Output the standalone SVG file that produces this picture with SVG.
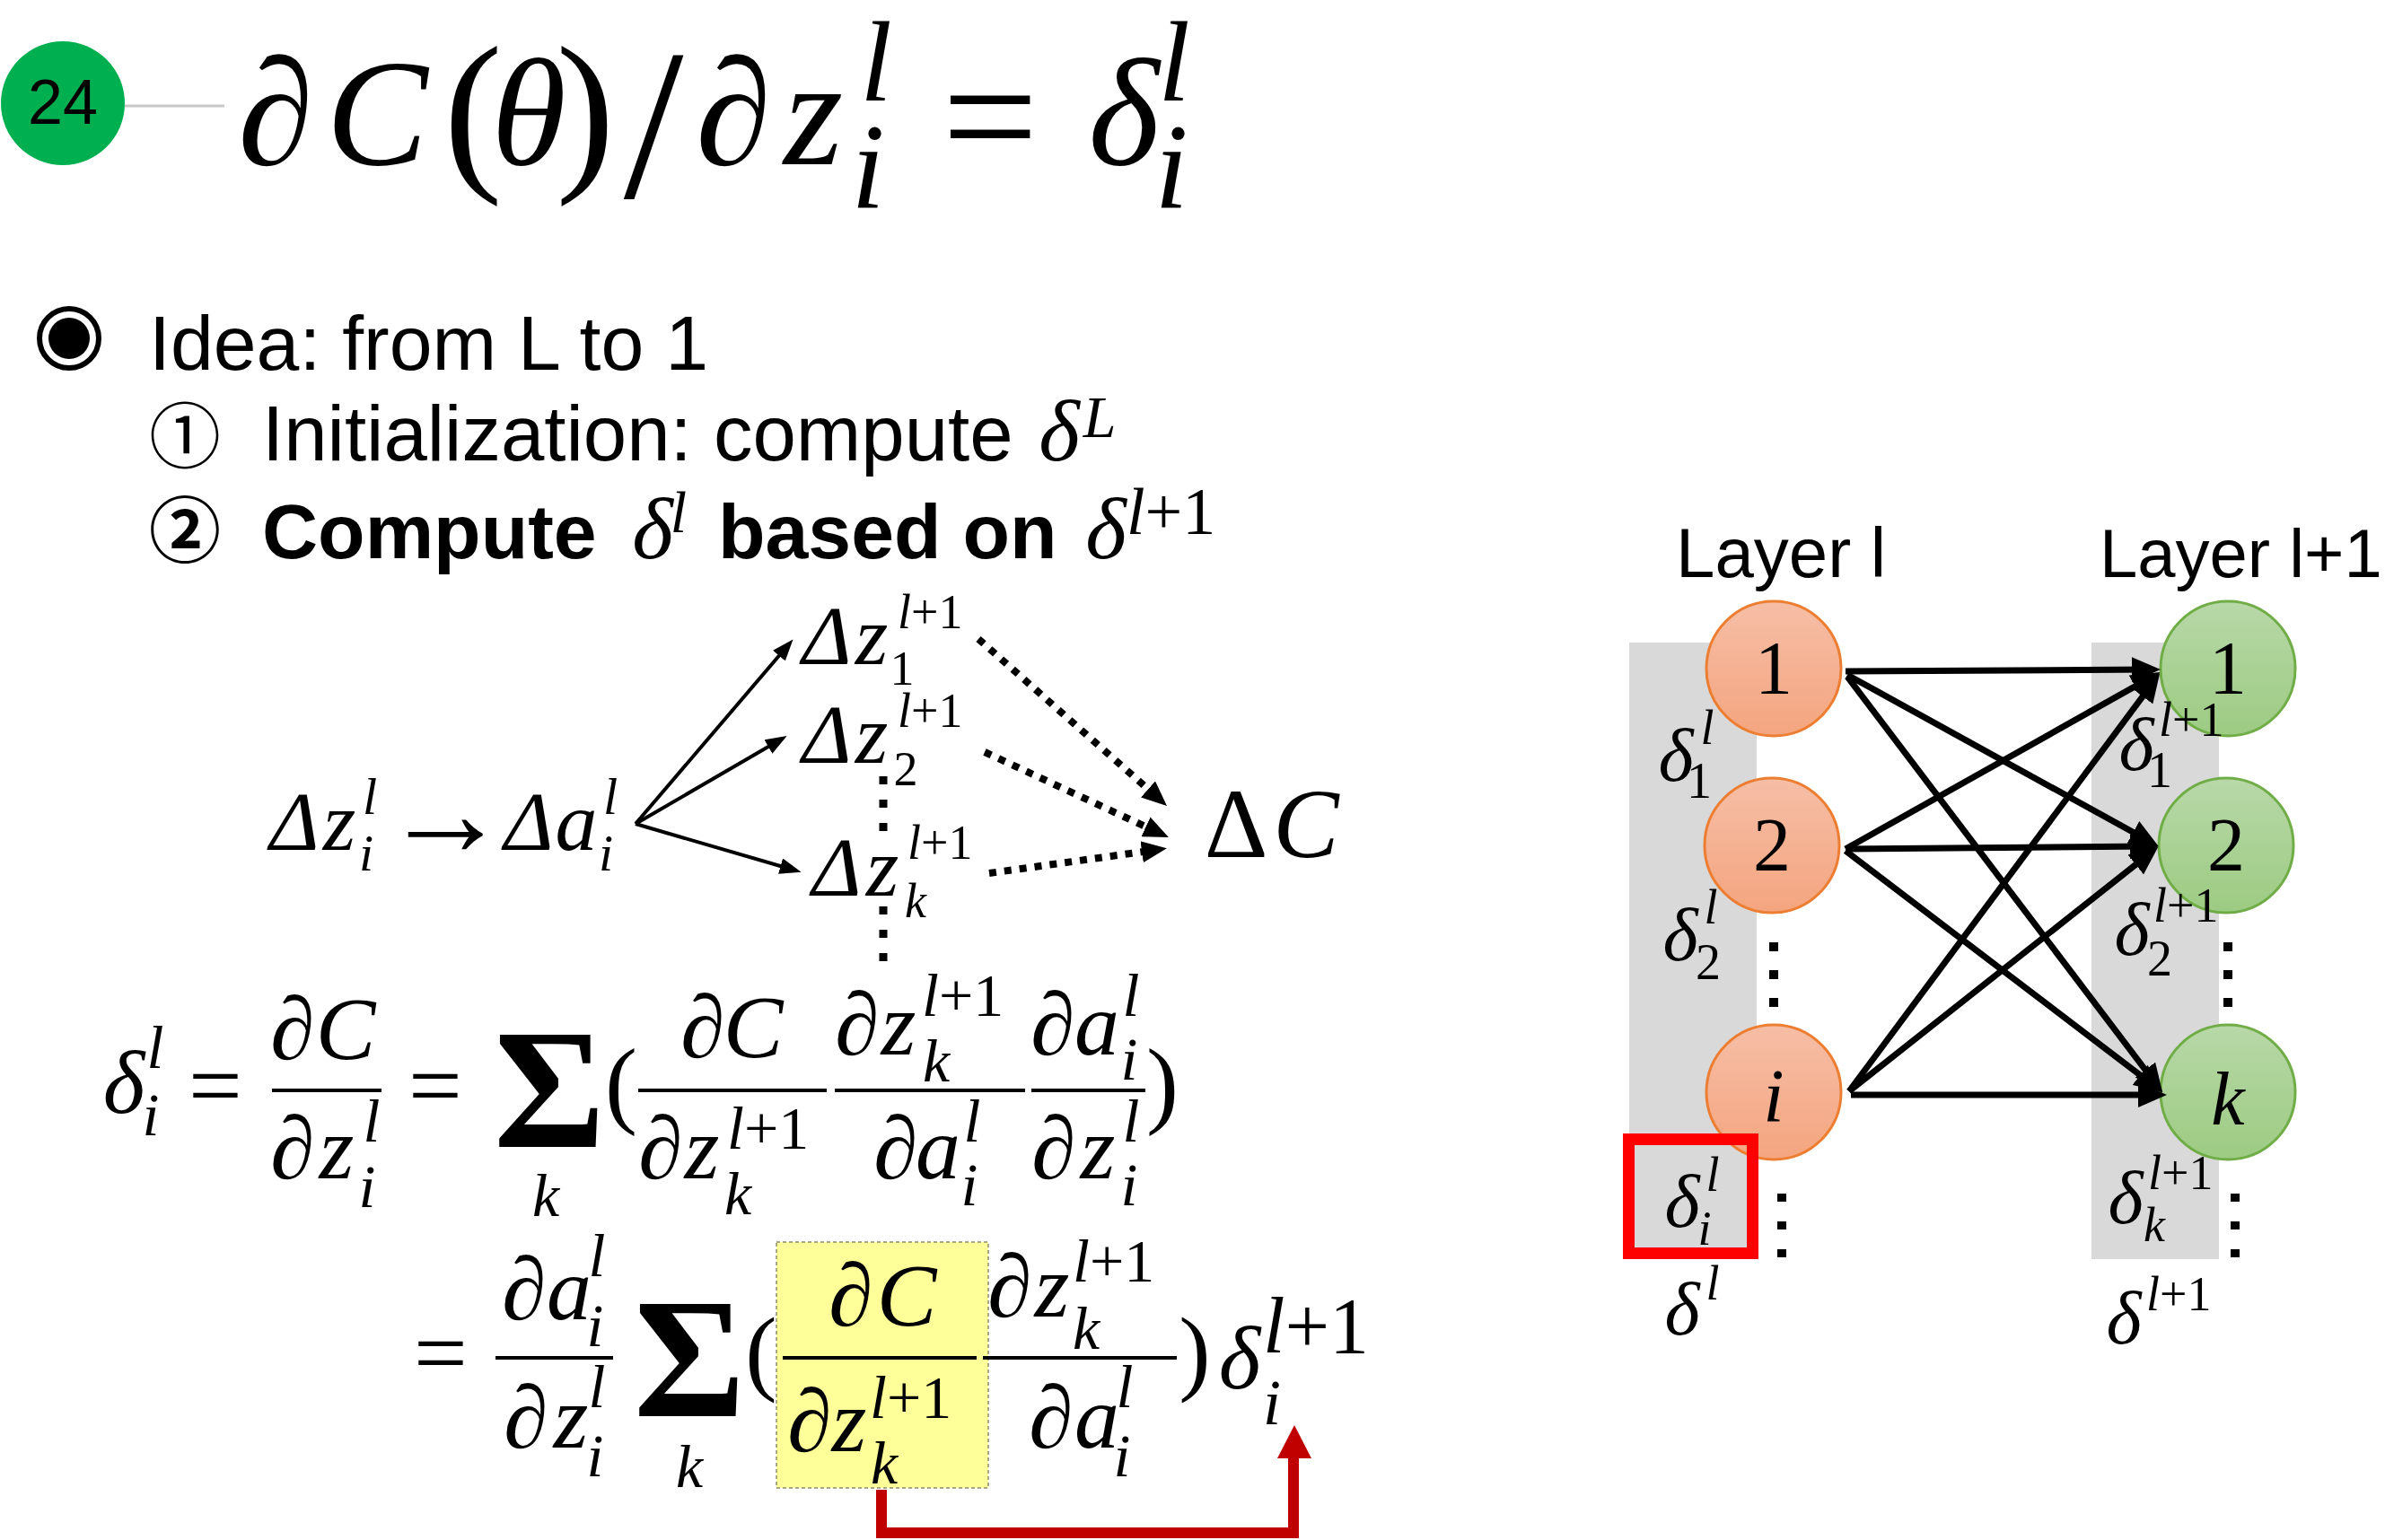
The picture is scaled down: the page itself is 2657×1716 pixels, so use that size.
<svg xmlns="http://www.w3.org/2000/svg" width="2657" height="1716" viewBox="0 0 2657 1716">
<style>
.m{font-family:"Liberation Serif","Times New Roman",serif;font-style:italic}
.r{font-family:"Liberation Serif","Times New Roman",serif;font-style:normal}
.s{font-family:"Liberation Sans",Arial,sans-serif}
.cj{font-family:"Noto Sans CJK SC","DejaVu Sans",sans-serif}
.c{text-anchor:middle}
.bar{stroke:#000;stroke-width:4}
.edge{stroke:#000;stroke-width:7;fill:none;marker-end:url(#ahNet)}
.sa{stroke:#000;stroke-width:4;fill:none;marker-end:url(#ahS)}
.da{stroke:#000;stroke-width:8;stroke-dasharray:8 9;fill:none;marker-end:url(#ahD)}
.dot{fill:#000}
</style>
<defs>
<linearGradient id="gO" x1="0" y1="0" x2="0" y2="1"><stop offset="0" stop-color="#f6bea6"/><stop offset="1" stop-color="#f4a57f"/></linearGradient>
<linearGradient id="gG" x1="0" y1="0" x2="0" y2="1"><stop offset="0" stop-color="#b8d8a8"/><stop offset="1" stop-color="#9ccb82"/></linearGradient>
<marker id="ahNet" markerUnits="userSpaceOnUse" markerWidth="32" markerHeight="28" refX="20" refY="14" orient="auto"><path d="M0,0 L32,14 L0,28 z" fill="#000"/></marker>
<marker id="ahS" markerUnits="userSpaceOnUse" markerWidth="24" markerHeight="18" refX="14" refY="9" orient="auto"><path d="M0,0 L24,9 L0,18 z" fill="#000"/></marker>
<marker id="ahD" markerUnits="userSpaceOnUse" markerWidth="28" markerHeight="24" refX="16" refY="12" orient="auto"><path d="M0,0 L28,12 L0,24 z" fill="#000"/></marker>
</defs>
<rect width="2657" height="1716" fill="#fff"/>

<g id="badge">
<line x1="138" y1="118" x2="250" y2="118" stroke="#c8c8c8" stroke-width="3"/>
<circle cx="70" cy="115" r="69" fill="#00b050"/>
<text class="s c" x="70" y="138" font-size="70">24</text>
</g>

<g id="title" class="m c" font-size="170">
<text x="307" y="183">∂</text>
<text x="420" y="183">C</text>
<text class="r" x="527" y="188" font-size="197">(</text>
<text x="589" y="183">θ</text>
<text class="r" x="652" y="188" font-size="197">)</text>
<text class="r" x="728" y="220" font-size="240">/</text>
<text x="817" y="183">∂</text>
<text x="906" y="183">z</text>
<text x="976" y="112" font-size="128">l</text>
<text x="967" y="232" font-size="135">i</text>
<text class="r" x="1103" y="194" font-size="190">=</text>
<text x="1252" y="183">δ</text>
<text x="1308" y="112" font-size="128">l</text>
<text x="1305" y="232" font-size="135">i</text>
</g>

<g id="bullets">
<circle cx="77" cy="377" r="33" fill="none" stroke="#000" stroke-width="6"/>
<circle cx="77" cy="377" r="23" fill="#000"/>
<text class="s" x="166" y="412" font-size="86">Idea: from L to 1</text>
<text class="cj c" x="206" y="515" font-size="80">①</text>
<text class="s" x="292" y="513" font-size="87">Initialization: compute</text>
<text class="m c" x="1180" y="513" font-size="98">δ</text>
<text class="m c" x="1225" y="487" font-size="66">L</text>
<text class="cj c" x="206" y="620" font-size="80" font-weight="bold">②</text>
<text class="s" x="292" y="622" font-size="86" font-weight="bold">Compute</text>
<text class="m c" x="727" y="622" font-size="98">δ</text>
<text class="m c" x="756" y="593" font-size="66">l</text>
<text class="s" x="800" y="622" font-size="86" font-weight="bold">based on</text>
<text class="m c" x="1232" y="622" font-size="98">δ</text>
<text x="1255" y="595" font-size="74"><tspan class="m">l</tspan><tspan class="r">+1</tspan></text>
</g>

<g id="dz-diagram" font-size="94">
<text class="m c" x="328" y="947">Δ</text><text class="m c" x="378" y="947">z</text>
<text class="m c" x="412" y="907" font-size="58">l</text><text class="m c" x="408" y="970" font-size="58">i</text>
<text class="r c" x="496" y="953" font-size="140">→</text>
<text class="m c" x="589" y="947">Δ</text><text class="m c" x="642" y="947">a</text>
<text class="m c" x="680" y="907" font-size="58">l</text><text class="m c" x="675" y="970" font-size="58">i</text>

<text class="m c" x="921" y="740">Δ</text><text class="m c" x="971" y="740">z</text>
<text x="1000" y="700" font-size="54"><tspan class="m">l</tspan><tspan class="r">+1</tspan></text>
<text class="r c" x="1005" y="763" font-size="54">1</text>

<text class="m c" x="921" y="850">Δ</text><text class="m c" x="971" y="850">z</text>
<text x="1000" y="810" font-size="54"><tspan class="m">l</tspan><tspan class="r">+1</tspan></text>
<text class="r c" x="1009" y="875" font-size="54">2</text>

<text class="m c" x="932" y="998">Δ</text><text class="m c" x="983" y="998">z</text>
<text x="1011" y="957" font-size="54"><tspan class="m">l</tspan><tspan class="r">+1</tspan></text>
<text class="m c" x="1020" y="1022" font-size="54">k</text>

<text class="r c" x="1377" y="955" font-size="110">Δ</text><text class="m c" x="1455" y="955" font-size="110">C</text>
</g>

<g id="dz-connectors">
<line class="sa" x1="708" y1="918" x2="877" y2="720"/>
<line class="sa" x1="708" y1="918" x2="868" y2="825"/>
<line class="sa" x1="708" y1="918" x2="883" y2="969"/>
<line class="da" x1="1090" y1="712" x2="1291" y2="890"/>
<line class="da" x1="1097" y1="838" x2="1291" y2="928"/>
<line class="da" x1="1102" y1="973" x2="1288" y2="947"/>
<line x1="984" y1="865" x2="984" y2="932" stroke="#000" stroke-width="9" stroke-dasharray="9 17"/>
<line x1="984" y1="1010" x2="984" y2="1078" stroke="#000" stroke-width="9" stroke-dasharray="9 17"/>
</g>

<g id="eq1" class="m c" font-size="100">
<text x="138" y="1240">δ</text>
<text x="173" y="1190" font-size="68">l</text><text x="168" y="1265" font-size="68">i</text>
<text class="r" x="240" y="1245" font-size="106">=</text>
<line class="bar" x1="303" y1="1215" x2="425" y2="1215"/>
<text x="326" y="1180">∂</text><text x="385" y="1180">C</text>
<text x="326" y="1313">∂</text><text x="375" y="1313">z</text>
<text x="414" y="1272" font-size="68">l</text><text x="409" y="1345" font-size="68">i</text>
<text class="r" x="485" y="1245" font-size="106">=</text>
<text class="r" x="612" y="1278" font-size="190" font-weight="bold">Σ</text>
<text x="608" y="1355" font-size="68">k</text>
<text class="r" x="692" y="1243" font-size="108">(</text>
<line class="bar" x1="711" y1="1215" x2="921" y2="1215"/>
<text x="783" y="1178">∂</text><text x="839" y="1178">C</text>
<text x="736" y="1313">∂</text><text x="782" y="1313">z</text>
<text x="810" y="1280" font-size="68" text-anchor="start"><tspan>l</tspan><tspan class="r">+1</tspan></text>
<text x="822" y="1353" font-size="68">k</text>
<line class="bar" x1="930" y1="1215" x2="1142" y2="1215"/>
<text x="955" y="1175">∂</text><text x="1001" y="1175">z</text>
<text x="1027" y="1132" font-size="68" text-anchor="start"><tspan>l</tspan><tspan class="r">+1</tspan></text>
<text x="1043" y="1205" font-size="68">k</text>
<text x="998" y="1313">∂</text><text x="1045" y="1313">a</text>
<text x="1083" y="1272" font-size="68">l</text><text x="1080" y="1343" font-size="68">i</text>
<line class="bar" x1="1149" y1="1215" x2="1276" y2="1215"/>
<text x="1173" y="1175">∂</text><text x="1222" y="1175">a</text>
<text x="1260" y="1132" font-size="68">l</text><text x="1258" y="1203" font-size="68">i</text>
<text x="1174" y="1313">∂</text><text x="1223" y="1313">z</text>
<text x="1260" y="1272" font-size="68">l</text><text x="1258" y="1343" font-size="68">i</text>
<text class="r" x="1295" y="1243" font-size="108">)</text>
</g>

<g id="eq2" class="m c" font-size="100">
<rect x="865" y="1384" width="236" height="274" fill="#ffff99" stroke="#8c8c6e" stroke-width="1.5" stroke-dasharray="4 3"/>
<text class="r" x="491" y="1543" font-size="106">=</text>
<line class="bar" x1="552" y1="1513" x2="683" y2="1513"/>
<text x="584" y="1470">∂</text><text x="634" y="1470">a</text>
<text x="665" y="1422" font-size="68">l</text><text x="663" y="1500" font-size="68">i</text>
<text x="586" y="1613">∂</text><text x="636" y="1613">z</text>
<text x="665" y="1568" font-size="68">l</text><text x="663" y="1645" font-size="68">i</text>
<text class="r" x="768" y="1578" font-size="190" font-weight="bold">Σ</text>
<text x="768" y="1657" font-size="68">k</text>
<text class="r" x="848" y="1541" font-size="106">(</text>
<line class="bar" x1="872" y1="1513" x2="1088" y2="1513"/>
<text x="948" y="1477">∂</text><text x="1010" y="1477">C</text>
<text x="902" y="1617">∂</text><text x="946" y="1617">z</text>
<text x="969" y="1580" font-size="68" text-anchor="start"><tspan>l</tspan><tspan class="r">+1</tspan></text>
<text x="985" y="1653" font-size="68">k</text>
<line class="bar" x1="1095" y1="1513" x2="1311" y2="1513"/>
<text x="1125" y="1467">∂</text><text x="1172" y="1467">z</text>
<text x="1195" y="1428" font-size="68" text-anchor="start"><tspan>l</tspan><tspan class="r">+1</tspan></text>
<text x="1210" y="1503" font-size="68">k</text>
<text x="1171" y="1613">∂</text><text x="1222" y="1613">a</text>
<text x="1253" y="1568" font-size="68">l</text><text x="1250" y="1645" font-size="68">i</text>
<text class="r" x="1331" y="1541" font-size="106">)</text>
<text x="1381" y="1547">δ</text>
<text x="1407" y="1507" font-size="88" text-anchor="start"><tspan>l</tspan><tspan class="r">+1</tspan></text>
<text x="1417" y="1587" font-size="72">i</text>
</g>

<g id="red-arrow">
<path d="M982,1660 V1708 H1441 V1620" fill="none" stroke="#c00000" stroke-width="12"/>
<polygon points="1423,1625 1461,1625 1442,1588" fill="#c00000"/>
</g>

<g id="layer-bg">
<rect x="1815" y="716" width="142" height="687" fill="#d9d9d9"/>
<rect x="2330" y="716" width="142" height="687" fill="#d9d9d9"/>
<text class="s" x="1867" y="643" font-size="78">Layer l</text>
<text class="s" x="2339" y="643" font-size="76">Layer l+1</text>
</g>

<g id="node-l1"><ellipse cx="1976" cy="745" rx="75" ry="75" fill="url(#gO)" stroke="#ed7d31" stroke-width="3"/><text class="r c" x="1976" y="773" font-size="84">1</text></g>
<g id="node-l2"><ellipse cx="1974" cy="942" rx="75" ry="75" fill="url(#gO)" stroke="#ed7d31" stroke-width="3"/><text class="r c" x="1974" y="970" font-size="84">2</text></g>
<g id="node-li"><ellipse cx="1976" cy="1217" rx="75" ry="75" fill="url(#gO)" stroke="#ed7d31" stroke-width="3"/><text class="m c" x="1976" y="1250" font-size="84">i</text></g>
<g id="node-r1"><ellipse cx="2482" cy="745" rx="75" ry="75" fill="url(#gG)" stroke="#70ad47" stroke-width="3"/><text class="r c" x="2482" y="773" font-size="84">1</text></g>
<g id="node-r2"><ellipse cx="2480" cy="942" rx="75" ry="75" fill="url(#gG)" stroke="#70ad47" stroke-width="3"/><text class="r c" x="2480" y="970" font-size="84">2</text></g>
<g id="node-rk"><ellipse cx="2482" cy="1217" rx="75" ry="75" fill="url(#gG)" stroke="#70ad47" stroke-width="3"/><text class="m c" x="2482" y="1253" font-size="84">k</text></g>

<g id="net-connectors">
<line class="edge" x1="2056" y1="748" x2="2395" y2="746"/>
<line class="edge" x1="2058" y1="752" x2="2394" y2="937"/>
<line class="edge" x1="2058" y1="754" x2="2402" y2="1208"/>
<line class="edge" x1="2056" y1="946" x2="2396" y2="755"/>
<line class="edge" x1="2056" y1="946" x2="2393" y2="943"/>
<line class="edge" x1="2056" y1="948" x2="2400" y2="1210"/>
<line class="edge" x1="2060" y1="1216" x2="2399" y2="760"/>
<line class="edge" x1="2060" y1="1216" x2="2395" y2="951"/>
<line class="edge" x1="2062" y1="1220" x2="2402" y2="1220"/>
</g>

<g id="net-labels" class="m c" font-size="84">
<text x="1867" y="870">δ</text><text x="1902" y="829" font-size="54">l</text><text class="r" x="1893" y="889" font-size="56">1</text>
<text x="1872" y="1070">δ</text><text x="1906" y="1029" font-size="54">l</text><text class="r" x="1903" y="1091" font-size="56">2</text>
<text x="1874" y="1367">δ</text><text x="1908" y="1327" font-size="54">l</text><text x="1899" y="1387" font-size="54">i</text>
<text x="1874" y="1487">δ</text><text x="1908" y="1448" font-size="54">l</text>
<text x="2380" y="858">δ</text><text x="2405" y="820" font-size="54" text-anchor="start"><tspan>l</tspan><tspan class="r">+1</tspan></text><text class="r" x="2406" y="877" font-size="56">1</text>
<text x="2375" y="1064">δ</text><text x="2399" y="1027" font-size="54" text-anchor="start"><tspan>l</tspan><tspan class="r">+1</tspan></text><text class="r" x="2406" y="1087" font-size="56">2</text>
<text x="2368" y="1363">δ</text><text x="2393" y="1325" font-size="54" text-anchor="start"><tspan>l</tspan><tspan class="r">+1</tspan></text><text x="2400" y="1383" font-size="54">k</text>
<text x="2366" y="1497">δ</text><text x="2391" y="1460" font-size="54" text-anchor="start"><tspan>l</tspan><tspan class="r">+1</tspan></text>
<rect x="1814.5" y="1269.5" width="138" height="127" fill="none" stroke="#ff0000" stroke-width="13"/>
</g>

<g id="net-dots" class="dot">
<rect x="1971" y="1050" width="10" height="10"/><rect x="1971" y="1081" width="10" height="10"/><rect x="1971" y="1112" width="10" height="10"/>
<rect x="2477" y="1050" width="10" height="10"/><rect x="2477" y="1081" width="10" height="10"/><rect x="2477" y="1112" width="10" height="10"/>
<rect x="1980" y="1330" width="10" height="9"/><rect x="1980" y="1361" width="10" height="9"/><rect x="1980" y="1392" width="10" height="9"/>
<rect x="2485" y="1330" width="10" height="9"/><rect x="2485" y="1361" width="10" height="9"/><rect x="2485" y="1392" width="10" height="9"/>
</g>
</svg>
